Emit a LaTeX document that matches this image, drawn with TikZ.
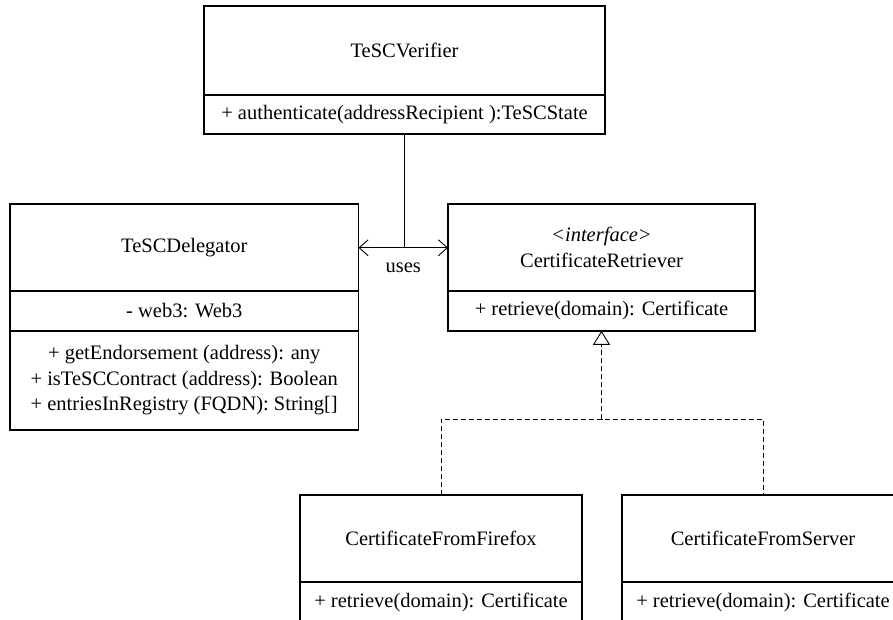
\documentclass[tikz,border=0pt]{standalone}
\usepackage{fontspec}
\setmainfont{Liberation Serif}
\usetikzlibrary{positioning}
\usetikzlibrary{arrows.meta}

\newcommand{\umlfont}{\fontsize{20.5pt}{25.5pt}\selectfont}

\begin{document}
\begin{tikzpicture}[x=1pt,y=-1pt,
    compart/.style={draw, line width=1.6pt, inner sep=0pt, outer sep=0pt,
        align=center, font=\umlfont},
    conn/.style={line width=0.9pt},
    uses/.style={conn, {Straight Barb[length=9pt,width=16pt]}-{Straight Barb[length=9pt,width=16pt]}},
    realize/.style={conn, dash pattern=on 5pt off 3pt}]
\def\nameH{87}
\def\methH{40}
\useasboundingbox (0,0) rectangle (893,619);
\clip (0,0) rectangle (893,619);

% TeSCVerifier
\node[compart, minimum width=401, minimum height=89] (verName) at (404.5,50.5) {TeSCVerifier};
\node[compart, minimum width=401, minimum height=39, below=0pt of verName] (verMeth)
    {+ authenticate(addressRecipient ):TeSCState};

% TeSCDelegator
\node[compart, minimum width=348.5, minimum height=\nameH] (delegName) at (184.25,247.75) {TeSCDelegator};
\node[compart, minimum width=348.5, minimum height=39.5, below=0pt of delegName] (delegAttr)
    {- web3: Web3};
\node[compart, minimum width=348.5, minimum height=99.5, below=0pt of delegAttr] (delegMeth)
    {+ getEndorsement (address): any\\
     + isTeSCContract (address): Boolean\\
     + entriesInRegistry (FQDN): String[]};

% CertificateRetriever
\node[compart, minimum width=307, minimum height=\nameH] (retrName) at (601.5,247.25)
    {\textit{<interface>}\\CertificateRetriever};
\node[compart, minimum width=307, minimum height=\methH, below=0pt of retrName] (retrMeth)
    {+ retrieve(domain): Certificate};

% Implementations
\node[compart, minimum width=282, minimum height=\nameH] (ffName) at (441,538.5) {CertificateFromFirefox};
\node[compart, minimum width=282, minimum height=\methH, below=0pt of ffName] (ffMeth)
    {+ retrieve(domain): Certificate};
\node[compart, minimum width=282, minimum height=\nameH] (srvName) at (763,538.5) {CertificateFromServer};
\node[compart, minimum width=282, minimum height=\methH, below=0pt of srvName] (srvMeth)
    {+ retrieve(domain): Certificate};

% uses association
\coordinate (usejoin) at (verMeth.south |- delegName.east);
\draw[conn] (verMeth.south) -- (usejoin);
\draw[uses] (delegName.east) -- (delegName.east -| retrName.west)
    node[midway, yshift=-20.5pt, font=\umlfont, inner sep=0pt] (usesLbl) {uses};

% realization
\coordinate (split) at (retrMeth.south |- 0,419);
\draw[realize] (ffName.north) |- (split) -| (srvName.north);
\draw[realize, -{Triangle[open, length=14pt, width=17pt]}] (split) -- (retrMeth.south);
\end{tikzpicture}
\end{document}
